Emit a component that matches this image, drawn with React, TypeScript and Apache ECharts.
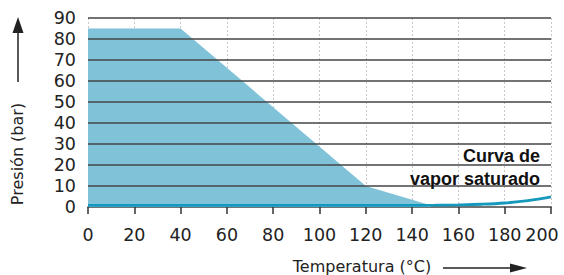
import React, { useEffect, useRef } from "react";
import * as echarts from "echarts";

const xTicks = [0, 20, 40, 60, 80, 100, 120, 140, 160, 180, 200];
const yTicks = [0, 10, 20, 30, 40, 50, 60, 70, 80, 90];
// operating region boundary (temperature °C, pressure bar)
const regionTemp = [0, 40, 120, 148];
const regionPress = [85, 85, 10, 0.8];
// saturated vapour curve
const curveTemp = [0, 20, 40, 60, 80, 100, 120, 140, 150, 160, 170, 180, 190, 200];
const curvePress = [0.8, 0.8, 0.8, 0.8, 0.8, 0.8, 0.8, 0.8, 0.85, 1.0, 1.3, 1.9, 3.0, 4.8];

const labelLine1 = "Curva de";
const labelLine2 = "vapor saturado";
const xName = "Temperatura (°C)";
const yName = "Presión (bar)";

export default function App() {
  const ref = useRef<HTMLDivElement>(null);
  useEffect(() => {
    if (!ref.current) return;
    const chart = echarts.init(ref.current, null, { renderer: "svg" });
    const tickFont = { fontFamily: "DejaVu Sans", fontSize: 17.5, color: "#222" };
    chart.setOption({
      animation: false,
      grid: { left: 88, right: 13, top: 18, bottom: 68 },
      xAxis: {
        type: "value",
        min: xTicks[0],
        max: xTicks[xTicks.length - 1],
        interval: 20,
        axisLine: { show: true, onZero: false, lineStyle: { color: "#444", width: 1.5 } },
        axisTick: { show: true, length: 7, lineStyle: { color: "#333", width: 1.5 } },
        axisLabel: {
          ...tickFont,
          margin: 19,
          formatter: (v: number) => (v === 200 ? "{r|" + v + "}" : String(v)),
          rich: { r: { ...tickFont, padding: [0, 18, 0, 0] } },
        },
        splitLine: { show: true, lineStyle: { color: "#c8c8c8", type: [2, 2], width: 1 } },
      },
      yAxis: {
        type: "value",
        min: 0,
        max: 90,
        interval: 10,
        axisLine: { show: false },
        axisTick: { show: false },
        axisLabel: { ...tickFont, margin: 12 },
        splitLine: { show: false },
      },
      series: [
        {
          type: "line",
          data: regionTemp.map((t, i) => [t, regionPress[i]]),
          symbol: "none",
          lineStyle: { width: 0 },
          areaStyle: { color: "#80c3d9", opacity: 1 },
          z: 2,
          silent: true,
        },
        {
          type: "line",
          data: [],
          z: 5,
          silent: true,
          markLine: {
            silent: true,
            symbol: "none",
            label: { show: false },
            lineStyle: { color: "#444", width: 1.5, type: "solid" },
            data: yTicks.filter((v) => v > 0).map((v) => ({ yAxis: v })),
          },
        },
        {
          type: "line",
          data: curveTemp.map((t, i) => [t, curvePress[i]]),
          smooth: 0.4,
          symbol: "none",
          lineStyle: { color: "#1499bd", width: 2.8 },
          z: 6,
          silent: true,
        },
      ],
      graphic: [
        {
          type: "text",
          x: 540,
          y: 156,
          style: {
            text: labelLine1,
            fontFamily: "Liberation Sans",
            fontWeight: "bold",
            fontSize: 18,
            fill: "#111",
            textAlign: "right",
            textVerticalAlign: "middle",
          },
          z: 10,
        },
        {
          type: "text",
          x: 540,
          y: 179,
          style: {
            text: labelLine2,
            fontFamily: "Liberation Sans",
            fontWeight: "bold",
            fontSize: 18,
            fill: "#111",
            textAlign: "right",
            textVerticalAlign: "middle",
          },
          z: 10,
        },
        {
          type: "text",
          x: 362,
          y: 266,
          style: {
            text: xName,
            fontFamily: "DejaVu Sans",
            fontSize: 16,
            fill: "#222",
            textAlign: "center",
            textVerticalAlign: "middle",
          },
        },
        {
          type: "text",
          x: 17,
          y: 154,
          rotation: Math.PI / 2,
          style: {
            text: yName,
            fontFamily: "DejaVu Sans",
            fontSize: 16,
            fill: "#222",
            textAlign: "center",
            textVerticalAlign: "middle",
          },
        },
        {
          type: "line",
          shape: { x1: 18, y1: 30, x2: 18, y2: 82 },
          style: { stroke: "#222", lineWidth: 1.5 },
        },
        {
          type: "polygon",
          shape: { points: [[18, 17], [12.5, 33], [23.5, 33]] },
          style: { fill: "#222" },
        },
        {
          type: "line",
          shape: { x1: 443, y1: 268, x2: 514, y2: 268 },
          style: { stroke: "#222", lineWidth: 1.5 },
        },
        {
          type: "polygon",
          shape: { points: [[527, 268], [510, 263.5], [510, 272.5]] },
          style: { fill: "#222" },
        },
      ],
    });
    return () => chart.dispose();
  }, []);
  return (
    <div
      ref={ref}
      style={{ position: "fixed", left: 0, top: 0, width: 564, height: 275, background: "#fff" }}
    />
  );
}
